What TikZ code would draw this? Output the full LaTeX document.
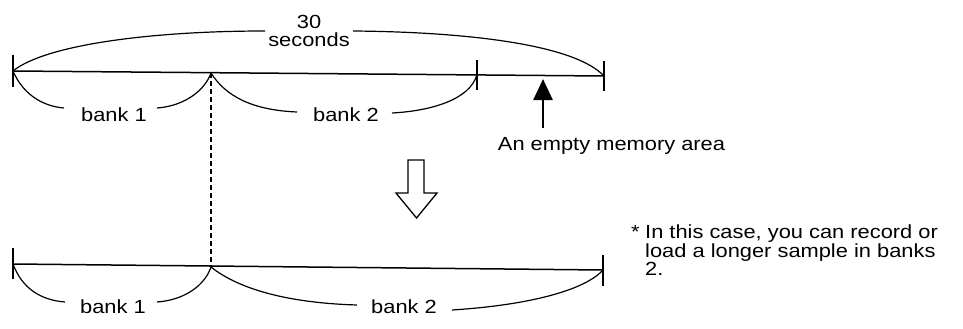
\documentclass[tikz,border=0pt]{standalone}
\usepackage{fontspec}
\setmainfont{Liberation Sans}[FakeStretch=1.15]
\usetikzlibrary{arrows.meta}
\begin{document}
\begin{tikzpicture}[x=1pt,y=-1pt,
  lbl/.style={inner sep=0pt, anchor=base, font=\fontsize{19}{19}\selectfont},
  notelbl/.style={inner sep=0pt, anchor=base west, font=\fontsize{19}{19}\selectfont},
  mainline/.style={line width=1.5pt},
  tickmark/.style={line width=1.8pt},
  brace/.style={line width=1.2pt},
  hollow/.style={line width=1.3pt, fill=white, line join=miter},
  dashline/.style={line width=1.2pt, dash pattern=on 5pt off 3pt},
]
\useasboundingbox (0,0) rectangle (963,329);
% ---------- top bar ----------
\coordinate (L1) at (13,71);
\coordinate (D1) at (211,73);
\coordinate (M1) at (477,74.5);
\coordinate (R1) at (604,76);
\draw[mainline] (L1) -- (R1);
\draw[tickmark] (13,55) -- (13,87);
\draw[tickmark] (477,60) -- (477,90);
\draw[tickmark] (604,61) -- (604,91);
% 30 seconds
\node[lbl] (t30) at (309,29) {30};
\node[lbl] (tsec) at (309,47) {seconds};
\coordinate (arcA) at (265,31);
\coordinate (arcB) at (353,31);
\draw[brace] (L1) .. controls (45,45) and (150,31) .. (arcA);
\draw[brace] (arcB) .. controls (470,32) and (575,45) .. (R1);
% bank brackets top
\node[lbl] (b1) at (114,121) {bank 1};
\coordinate (b1l) at (64,108);
\coordinate (b1r) at (157,108);
\draw[brace] (L1) .. controls (22,92) and (40,106) .. (b1l);
\draw[brace] (b1r) .. controls (185,106) and (205,90) .. (D1);
\node[lbl] (b2) at (346,121) {bank 2};
\coordinate (b2l) at (297,112);
\coordinate (b2r) at (392,113);
\draw[brace] (D1) .. controls (225,95) and (250,110) .. (b2l);
\draw[brace] (b2r) .. controls (430,111) and (470,100) .. (M1);
% arrow to empty area
\node[lbl] (empty) at (611.5,150) {An empty memory area};
\coordinate (upS) at (543,128);
\coordinate (upT) at (543,79);
\draw[line width=2.6pt, -{Triangle[length=21pt,width=19pt]}] (upS) -- (upT);
% hollow down arrow
\draw[hollow] (408,160) -- (424,160) -- (424,193) -- (437,193) -- (416.5,218)
  -- (396,193) -- (408,193) -- cycle;
% ---------- bottom bar ----------
\coordinate (L2) at (13,264);
\coordinate (D2) at (211,267);
\coordinate (R2) at (603,270);
\draw[dashline] (D1) -- (D2);
\draw[mainline] (L2) -- (R2);
\draw[tickmark] (13,248) -- (13,279);
\draw[tickmark] (603,255) -- (603,286);
\node[lbl] (c1) at (113,313) {bank 1};
\coordinate (c1l) at (65,302);
\coordinate (c1r) at (157,302);
\draw[brace] (L2) .. controls (22,288) and (40,300) .. (c1l);
\draw[brace] (c1r) .. controls (185,300) and (205,285) .. (D2);
\node[lbl] (c2) at (404,313) {bank 2};
\coordinate (c2l) at (357,305);
\coordinate (c2r) at (452,310);
\draw[brace] (D2) .. controls (240,290) and (290,303) .. (c2l);
\draw[brace] (c2r) .. controls (530,305) and (585,290) .. (R2);
% ---------- note ----------
\node[notelbl] (ast) at (631,238) {*};
\node[notelbl] (n1) at (645,238) {In this case, you can record or};
\node[notelbl] (n2) at (645,257) {load a longer sample in banks};
\node[notelbl] (n3) at (645,275.5) {2.};
\end{tikzpicture}
\end{document}
